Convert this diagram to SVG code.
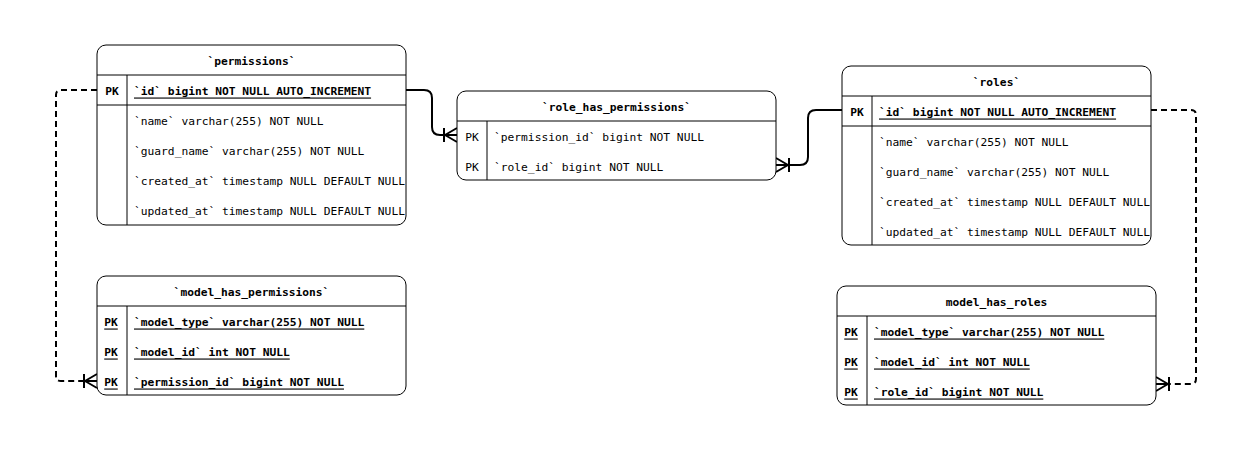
<svg xmlns="http://www.w3.org/2000/svg" width="1256" height="451" viewBox="0 0 1256 451">
<style>
.box{fill:#fff;stroke:#000;stroke-width:1}
.ln{stroke:#000;stroke-width:1;fill:none}
text{font-family:"DejaVu Sans Mono","Liberation Mono",monospace;font-size:11.25px;fill:#000;dominant-baseline:central}
.h{font-weight:bold;text-anchor:middle}
.pk{text-anchor:middle}
.b{font-weight:bold}
.u{text-decoration:underline}
.c{fill:none;stroke:#000;stroke-width:2}
.d{stroke-dasharray:6 4}
</style>
<defs>
<marker id="crow" markerUnits="userSpaceOnUse" markerWidth="30" markerHeight="30" viewBox="-15 -15 30 30" refX="0" refY="0" orient="auto" overflow="visible">
<path d="M-12,0 L0,-7 M-12,0 L0,0 M-12,0 L0,7 M-13,-7 V7" fill="none" stroke="#000" stroke-width="2"/>
</marker>
</defs>
<rect width="1256" height="451" fill="#fff"/>
<g id="connectors">
<path class="c" d="M406,90 H424 Q432,90 432,98 V127 Q432,135 440,135 H457" marker-end="url(#crow)"/>
<path class="c" d="M842,110 H816 Q808,110 808,118 V157 Q808,165 800,165 H776" marker-end="url(#crow)"/>
<path class="c d" d="M97,90 H61 Q56,90 56,95 V376 Q56,381 61,381 H97" marker-end="url(#crow)"/>
<path class="c d" d="M1151,110 H1191 Q1196,110 1196,115 V379 Q1196,384 1191,384 H1156" marker-end="url(#crow)"/>
</g>
<g id="permissions">
<rect class="box" x="97" y="45" width="309" height="180" rx="9"/>
<path class="ln" d="M97,75 H406 M97,105 H406 M127,75 V225"/>
<text class="h" x="251.5" y="61">`permissions`</text>
<text class="pk b" x="112" y="91">PK</text>
<text class="b u" x="134" y="91">`id` bigint NOT NULL AUTO_INCREMENT</text>
<text x="134" y="121">`name` varchar(255) NOT NULL</text>
<text x="134" y="151">`guard_name` varchar(255) NOT NULL</text>
<text x="134" y="181">`created_at` timestamp NULL DEFAULT NULL</text>
<text x="134" y="211">`updated_at` timestamp NULL DEFAULT NULL</text>
</g>
<g id="role_has_permissions">
<rect class="box" x="457" y="91" width="319" height="89" rx="9"/>
<path class="ln" d="M457,121 H776 M487,121 V180"/>
<text class="h" x="616.5" y="107">`role_has_permissions`</text>
<text class="pk" x="472" y="137">PK</text>
<text x="494" y="137">`permission_id` bigint NOT NULL</text>
<text class="pk" x="472" y="167">PK</text>
<text x="494" y="167">`role_id` bigint NOT NULL</text>
</g>
<g id="roles">
<rect class="box" x="842" y="66" width="309" height="179" rx="9"/>
<path class="ln" d="M842,96 H1151 M842,126 H1151 M872,96 V245"/>
<text class="h" x="996.5" y="82">`roles`</text>
<text class="pk b" x="857" y="112">PK</text>
<text class="b u" x="879" y="112">`id` bigint NOT NULL AUTO_INCREMENT</text>
<text x="879" y="142">`name` varchar(255) NOT NULL</text>
<text x="879" y="172">`guard_name` varchar(255) NOT NULL</text>
<text x="879" y="202">`created_at` timestamp NULL DEFAULT NULL</text>
<text x="879" y="232">`updated_at` timestamp NULL DEFAULT NULL</text>
</g>
<g id="model_has_permissions">
<rect class="box" x="97" y="276" width="309" height="119" rx="9"/>
<path class="ln" d="M97,306 H406 M127,306 V395"/>
<text class="h" x="251.5" y="292">`model_has_permissions`</text>
<text class="pk b u" x="111" y="322">PK</text>
<text class="b u" x="134" y="322">`model_type` varchar(255) NOT NULL</text>
<text class="pk b u" x="111" y="352">PK</text>
<text class="b u" x="134" y="352">`model_id` int NOT NULL</text>
<text class="pk b u" x="111" y="382">PK</text>
<text class="b u" x="134" y="382">`permission_id` bigint NOT NULL</text>
</g>
<g id="model_has_roles">
<rect class="box" x="837" y="286" width="319" height="119" rx="9"/>
<path class="ln" d="M837,316 H1156 M867,316 V405"/>
<text class="h" x="996.5" y="302">model_has_roles</text>
<text class="pk b u" x="851" y="332">PK</text>
<text class="b u" x="874" y="332">`model_type` varchar(255) NOT NULL</text>
<text class="pk b u" x="851" y="362">PK</text>
<text class="b u" x="874" y="362">`model_id` int NOT NULL</text>
<text class="pk b u" x="851" y="392">PK</text>
<text class="b u" x="874" y="392">`role_id` bigint NOT NULL</text>
</g>
</svg>
